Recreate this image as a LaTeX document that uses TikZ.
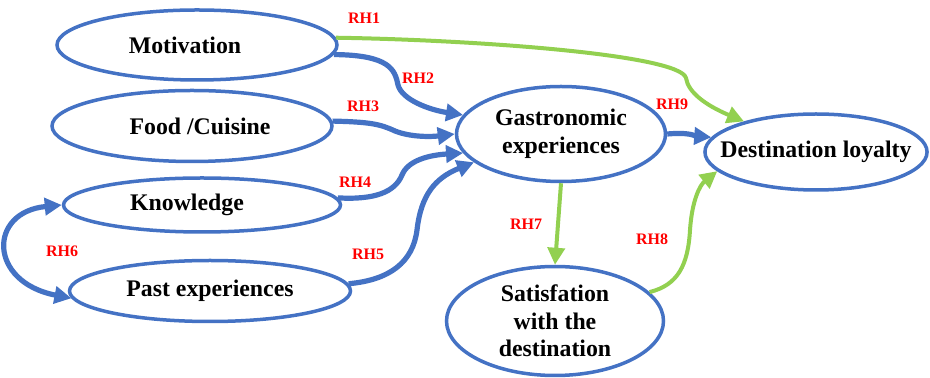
\documentclass[tikz,border=0pt]{standalone}
\usepackage{fontspec}
\setmainfont{Liberation Serif}
\usetikzlibrary{shapes}
\usetikzlibrary{arrows.meta}
\definecolor{ppblue}{RGB}{68,114,196}
\definecolor{ppgreen}{RGB}{146,208,80}
\tikzset{construct/.style={ellipse,draw=ppblue,line width=1.75pt,inner sep=0pt,
align=center, font=\fontsize{11.9}{13.8}\selectfont\bfseries},
hyp/.style={text=red,inner sep=0pt, font=\fontsize{8}{8}\selectfont\bfseries},
bluepath/.style={draw=ppblue,line width=2.6pt,-{Triangle[length=8.5pt,width=8.5pt]}},
greenpath/.style={draw=ppgreen,line width=2pt,-{Triangle[length=8.5pt,width=8.5pt]}},
}

\begin{document}
\begin{tikzpicture}[x=0.5pt,y=-0.5pt]
  \useasboundingbox (0,0) rectangle (930,378);
  \node (motivation) [construct,minimum width=140pt,minimum height=35pt] at (197,45) {Motivation\hspace*{12pt}};
  \node (food) [construct,minimum width=140pt,minimum height=35.5pt] at (192,126) {\hspace*{8pt}Food /Cuisine};
  \node (knowledge) [construct,minimum width=138.5pt,minimum height=27pt] at (202,205) {Knowledge\hspace*{15pt}};
  \node (pastexp) [construct,minimum width=140.5pt,minimum height=30.5pt] at (210,291) {Past experiences};
  \node (gastro) [construct,minimum width=104.5pt,minimum height=47.5pt] at (561,134) {Gastronomic\\experiences};
  \node (destination) [construct,inner xsep=-8.5pt,minimum width=111pt,minimum height=38pt] at (816,152) {Destination loyalty};
  \node (satisf) [construct,minimum width=108.5pt,minimum height=54.5pt] at (555,321) {Satisfation\\with the\\destination};

  \draw [greenpath] (motivation.3) .. controls (480,40) and (680,55) .. (686,78)
    .. controls (688,92) and (705,105) .. (destination.157);
  \draw [bluepath] (motivation.-4) .. controls (390,55) and (395,70) .. (398,85)
    .. controls (402,100) and (430,110) .. (gastro.169);
  \draw [bluepath] (food.2) .. controls (370,122) and (380,124) .. (395,131)
    .. controls (410,137) and (430,137) .. (gastro.west);
  \draw [bluepath] (knowledge.3) .. controls (375,200) and (395,192) .. (402,175)
    .. controls (408,160) and (430,155) .. (gastro.191);
  \draw [bluepath] (pastexp.3) .. controls (390,280) and (413,262) .. (417,230)
    .. controls (421,195) and (435,178) .. (gastro.198);
  \draw [bluepath,{Triangle[length=8.5pt,width=8.5pt]}-{Triangle[length=8.5pt,width=8.5pt]}]
    (knowledge.west) .. controls (-12,212) and (-12,282) .. (pastexp.183);
  \draw [greenpath] (gastro.south) -- (satisf.north);
  \draw [greenpath] (satisf.17) .. controls (678,285) and (688,265) .. (690,230)
    .. controls (692,200) and (700,185) .. (destination.191);
  \draw [bluepath] (gastro.east) .. controls (690,132) and (695,136) .. (destination.172);

  \node (rh1) [hyp] at (364,18) {RH1};
  \node (rh2) [hyp] at (418,78) {RH2};
  \node (rh3) [hyp] at (363,106) {RH3};
  \node (rh4) [hyp] at (355,182) {RH4};
  \node (rh5) [hyp] at (368,254) {RH5};
  \node (rh6) [hyp] at (62,251) {RH6};
  \node (rh7) [hyp] at (526,224) {RH7};
  \node (rh8) [hyp] at (652,239) {RH8};
  \node (rh9) [hyp] at (672,104) {RH9};
\end{tikzpicture}
\end{document}
